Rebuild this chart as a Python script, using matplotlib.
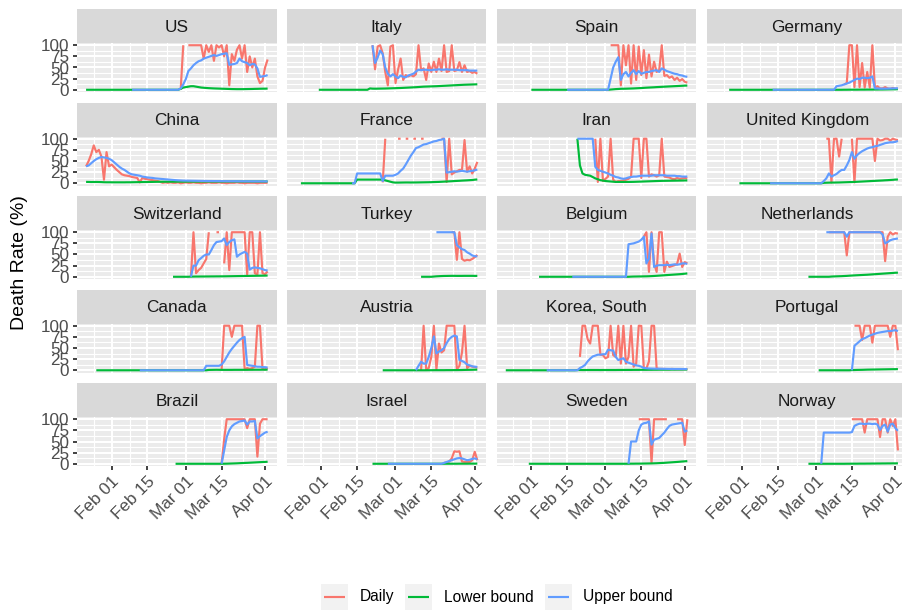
import numpy as np
import pandas as pd
import matplotlib
matplotlib.use("Agg")
import matplotlib.pyplot as plt
import matplotlib.dates as mdates
from matplotlib.patches import Rectangle

plt.rcParams["font.family"] = ["Liberation Sans", "DejaVu Sans"]
nan = np.nan

# ---------------------------------------------------------------------------
# Death-rate series per country: (first date, daily values in %)
# ---------------------------------------------------------------------------
COUNTRIES = ["US", "Italy", "Spain", "Germany",
             "China", "France", "Iran", "United Kingdom",
             "Switzerland", "Turkey", "Belgium", "Netherlands",
             "Canada", "Austria", "Korea, South", "Portugal",
             "Brazil", "Israel", "Sweden", "Norway"]
SERIES_NAMES = ["Daily", "Lower bound", "Upper bound"]
SERIES_COLORS = ["#F8766D", "#00BA38", "#619CFF"]

US_DAILY = ("2020-02-28", [0, 100, nan, 100, 100, 100, 100, 100, 100, 70,
                           100, 85, 100, 65, 100, 95, 100, 75, 100, 10,
                           80, 65, 90, 100, 70, 100, 40, 75, 50, 70,
                           30, 15, 20, 50, 68])
US_LOWER = ("2020-01-22", [0] * 37 + [2, 5, 6, 7, 8, 8, 7, 6, 5, 4.5,
                                      4, 3.6, 3.3, 3, 2.8, 2.6, 2.4, 2.2, 2.0, 1.8,
                                      1.6, 1.5, 1.4, 1.4, 1.4, 1.5, 1.6, 1.7, 1.8, 2.0,
                                      2.1, 2.3, 2.4, 2.5, 2.6])
US_UPPER = ("2020-02-09", [0] * 19 + [3, 12, 24, 42, 48, 55, 60, 64, 66, 70,
                                      72, 74, 76, 78, 76, 78, 80, 81, 82, 56,
                                      57, 58, 60, 70, 64, 62, 60, 55, 58, 57,
                                      48, 29, 30, 31, 33])

ITALY_DAILY = ("2020-02-21", [100, 46, 97, 100, 82, 40, 10, 97, 100, 15,
                              45, 70, 22, 33, 30, 33, 30, 35, 100, 44,
                              48, 22, 59, 40, 63, 40, 70, 42, 100, 40,
                              42, 100, 42, 44, 62, 40, 55, 40, 42, 38,
                              40, 36])
ITALY_LOWER = ("2020-01-31", [0] * 20 + [3, 2.5, 2.4, 2.5, 2.6, 2.7, 2.8, 3.0, 3.2, 3.4,
                                         3.6, 3.8, 4.0, 4.3, 4.6, 4.9, 5.2, 5.5, 5.8, 6.2,
                                         6.6, 7.0, 7.2, 7.4, 7.6, 7.8, 8.0, 8.3, 8.6, 8.9,
                                         9.2, 9.5, 9.8, 10.1, 10.4, 10.7, 11.0, 11.3, 11.5, 11.7,
                                         11.9, 12.1, 12.3])
ITALY_UPPER = ("2020-02-21", [100, 60, 72, 88, 80, 50, 36, 30, 35, 30,
                              26, 32, 29, 28, 32, 34, 36, 41, 45, 44,
                              45, 45, 44, 44, 45, 45, 46, 45, 45, 46,
                              45, 45, 45, 45, 44, 44, 44, 44, 43, 43,
                              43, 43])

SPAIN_DAILY = ("2020-03-03", [100, 100, 100, 100, 10, 100, 55, 100, 14, 100,
                              22, 97, 33, 89, 26, 79, 30, 63, 40, 44,
                              100, 31, 33, 27, 30, 22, 27, 20, 24, 18,
                              16])
SPAIN_LOWER = ("2020-02-01", [0] * 31 + [0.5, 1.0, 1.5, 1.8, 2.2, 2.3, 2.4, 2.6, 2.8, 3.0,
                                         3.3, 3.6, 3.9, 4.3, 4.7, 5.0, 5.3, 5.6, 6.0, 6.3,
                                         6.6, 6.9, 7.2, 7.5, 7.8, 8.1, 8.4, 8.7, 9.0, 9.3,
                                         9.5])
SPAIN_UPPER = ("2020-02-15", [0] * 17 + [25, 50, 63, 73, 22, 35, 40, 30, 38, 44,
                                         35, 42, 36, 38, 40, 40, 42, 43, 44, 40,
                                         48, 45, 42, 40, 38, 36, 35, 33, 32, 30,
                                         29])

GERMANY_DAILY = ("2020-03-12", [12, 15, 100, 100, 6, 100, 6, 60, 5, 40,
                                5, 100, 5, 8, 3, 3, 6, 3, 2, 4,
                                2, 2])
GERMANY_LOWER = ("2020-01-27", [0] * 45 + [0.1, 0.1, 0.2, 0.2, 0.2, 0.2, 0.3, 0.3, 0.3, 0.4,
                                           0.4, 0.4, 0.5, 0.5, 0.6, 0.6, 0.7, 0.8, 0.9, 1.0,
                                           1.1, 1.3])
GERMANY_UPPER = ("2020-02-13", [0] * 24 + [0, 8, 9, 10, 12, 14, 16, 19, 22, 25,
                                           24, 27, 27, 26, 27, 30, 3, 3, 2.5, 2.5,
                                           2.5, 2.6, 2.8, 3, 3.2, 3.5])

CHINA_DAILY = ("2020-01-22", [38, 50, 65, 85, 70, 75, 60, 8, 70, 38,
                              42, 36, 30, 25, 20, 18, 17, 16, 14, 13,
                              12, 2, 12, 10, 9, 8, 7, 6, 5, 3,
                              1, 2, 1, 2, 1, 1, 2, 0, 1, 2,
                              1, 1, 2, 1, 1, 0, 1, 1, 2, 1,
                              1, 1, 2, 1, 1, 0, 1, 1, 1, 2,
                              1, 1, 0, 1, 1, 1, 1, 0, 1, 1,
                              1, 1])
CHINA_LOWER = ("2020-01-22", [3.1, 3.0, 2.8, 2.9, 2.9, 2.8, 2.6, 2.3, 2.2, 2.2,
                              2.2, 2.1, 2.1, 2.1, 2.1, 2.1, 2.2, 2.2, 2.3, 2.4,
                              2.5, 2.6, 2.7, 2.8, 2.9, 3.0, 3.1, 3.2, 3.3, 3.4,
                              3.5, 3.5, 3.6, 3.6, 3.6, 3.6, 3.7, 3.7, 3.7, 3.7,
                              3.8, 3.8, 3.8, 3.8, 3.8, 3.9, 3.9, 3.9, 3.9, 3.9,
                              3.9, 3.9, 3.9, 3.9, 4.0, 4.0, 4.0, 4.0, 4.0, 4.0,
                              4.0, 4.0, 4.0, 4.0, 4.0, 4.0, 4.0, 4.0, 4.0, 4.0,
                              4.0, 4.0])
CHINA_UPPER = ("2020-01-22", [38, 40, 45, 50, 54, 57, 59, 58, 57, 55,
                              52, 47, 42, 37, 33, 30, 26, 22, 20, 19,
                              18, 17, 15, 14, 13, 12.5, 12, 11, 10.5, 10,
                              9.5, 9, 8.5, 8, 7.5, 7, 6.6, 6.3, 6, 5.9,
                              5.8, 5.7, 5.6, 5.5, 5.4, 5.3, 5.2, 5.1, 5.0, 5.0,
                              4.9, 4.9, 4.8, 4.8, 4.7, 4.7, 4.6, 4.6, 4.6, 4.5,
                              4.5, 4.5, 4.4, 4.4, 4.4, 4.3, 4.3, 4.3, 4.3, 4.2,
                              4.2, 4.2])

FRANCE_DAILY = ("2020-02-25", [2, 100, nan, nan, nan, nan, 100, 100, nan, 100,
                               100, nan, 100, 100, nan, 100, 100, nan, nan, nan,
                               nan, nan, nan, 100, 100, 3, 100, 20, 24, 27,
                               30, 30, 97, 26, 38, 22, 33, 48])
FRANCE_LOWER = ("2020-01-24", [0] * 22 + [8.3, 8.3, 8.3, 8.3, 8.3, 8.3, 8.3, 8.3, 8.3, 8.3,
                                          8.0, 6.5, 5, 3.5, 2.0, 1.5, 1.5, 1.6, 1.7, 1.8,
                                          1.8, 1.7, 1.8, 1.8, 1.9, 2.0, 2.1, 2.2, 2.3, 2.5,
                                          2.7, 2.9, 3.1, 3.4, 3.7, 4.0, 4.3, 4.6, 5.0, 5.3,
                                          5.6, 6.0, 6.3, 6.6, 7.0, 7.4, 8.0, 8.6])
FRANCE_UPPER = ("2020-02-13", [0, 0, 22, 22, 22, 22, 22, 22, 22, 22,
                               22, 22, 5, 17, 17, 17, 17, 19, 22, 28,
                               33, 42, 52, 62, 70, 79, 81, 84, 87, 88,
                               90, 92, 94, 95, 97, 98, 100, 24, 25, 26,
                               27, 26, 27, 28, 27, 26, 27, 28, 29, 31])

IRAN_DAILY = ("2020-02-26", [100, 3, 100, 5, 10, 15, 100, 8, 3, 5,
                             5, 6, 8, 10, 15, 100, 100, 100, 12, 100,
                             100, 15, 20, 18, 15, 18, 100, 15, 14, 13,
                             10, 9, 12, 10, 11, 12, 11])
IRAN_LOWER = ("2020-02-19", [100, 40, 22, 19, 18, 17, 14, 11, 9, 7,
                             6, 5, 4.5, 4, 3.5, 3, 3, 3, 3, 3,
                             3, 3.1, 3.2, 3.4, 3.6, 3.8, 4.0, 4.2, 4.4, 4.6,
                             4.8, 5.0, 5.2, 5.4, 5.5, 5.6, 5.7, 5.8, 5.9, 6.0,
                             6.1, 6.2, 6.3, 6.4])
IRAN_UPPER = ("2020-02-19", [100, 100, 100, 100, 100, 100, 100, 37, 30, 28,
                             26, 24, 22, 19, 17, 14, 13, 11, 10, 11,
                             13, 14, 15, 15, 16, 17, 17, 17, 17, 17,
                             18, 18, 18, 18, 18, 17, 17, 17, 17, 16,
                             16, 15, 15, 15])

UK_DAILY = ("2020-03-05", [100, 100, 2, 100, 100, 60, 100, nan, nan, nan,
                           100, 2, 100, 100, 100, 100, 100, 100, 100, 50,
                           100, 96, 97, 100, 100, 96, 100, 98, 97])
UK_LOWER = ("2020-01-31", [0] * 33 + [1.0, 1.2, 1.4, 1.5, 1.6, 1.7, 1.8, 2.0, 2.2, 2.4,
                                      2.6, 2.8, 3.0, 3.3, 3.6, 3.9, 4.2, 4.5, 4.8, 5.1,
                                      5.4, 5.7, 6.0, 6.3, 6.7, 7.0, 7.4, 7.8, 8.2, 8.6])
UK_UPPER = ("2020-02-12", [0] * 21 + [5, 11, 22, 15, 18, 21, 26, 30, 30, 40,
                                      52, 70, 55, 63, 68, 72, 75, 78, 80, 81,
                                      83, 84, 86, 88, 90, 91, 92, 92, 93, 95])

SWITZERLAND_DAILY = ("2020-03-03", [0, 100, 8, 15, 20, 30, 40, 100, nan, nan,
                                    100, 100, nan, 30, 100, 15, 100, 100, 100, 100,
                                    100, 100, 5, 100, 100, 8, 5, 100, 8, 6,
                                    12])
SWITZERLAND_LOWER = ("2020-02-25", [0] * 7 + [0.3, 0.4, 0.5, 0.5, 0.6, 0.6, 0.7, 0.7, 0.8, 0.8,
                                              0.9, 0.9, 1.0, 1.0, 1.1, 1.2, 1.3, 1.4, 1.5, 1.6,
                                              1.7, 1.8, 1.9, 2.0, 2.1, 2.2, 2.3, 2.4, 2.5, 2.6,
                                              2.8])
SWITZERLAND_UPPER = ("2020-03-03", [0, 25, 25, 37, 42, 47, 50, 50, 60, 71,
                                    78, 79, 80, 86, 71, 78, 82, 84, 45, 50,
                                    53, 56, 52, 16, 20, 21, 20, 19, 17, 15,
                                    14])

TURKEY_DAILY = ("2020-03-23", [100, 100, 38, 100, 40, 36, 38, 37, 40, 44,
                               49])
TURKEY_LOWER = ("2020-03-11", [0, 0, 0, 0, 0, 0.5, 1.0, 1.3, 1.6, 1.8,
                               1.9, 2.0, 2.1, 2.1, 2.0, 2.0, 2.0, 2.1, 2.1, 2.1,
                               2.1, 2.0, 2.0])
TURKEY_UPPER = ("2020-03-17", [100, 100, 100, 100, 100, 100, 100, 100, 71, 66,
                               62, 60, 55, 52, 48, 46, 46])

BELGIUM_DAILY = ("2020-03-16", [90, 100, 11, 100, 30, 11, 100, 100, 11, 34,
                                22, 24, 26, 29, 52, 22, 33, 30])
BELGIUM_LOWER = ("2020-02-04", [0] * 36 + [0.3, 0.5, 0.6, 0.7, 0.8, 0.9, 1.0, 1.2, 1.5, 1.8,
                                           2.2, 2.6, 3.0, 3.4, 3.8, 4.2, 4.6, 5.0, 5.4, 5.8,
                                           6.3, 6.9, 7.5])
BELGIUM_UPPER = ("2020-02-17", [0] * 22 + [73, 74, 75, 77, 79, 83, 90, 30, 41, 97,
                                           22, 25, 26, 26, 26, 27, 26, 27, 28, 27,
                                           28, 30, 30, 29])

NETHERLANDS_DAILY = ("2020-03-06", [100, 100, 100, 100, 100, 100, 100, 48, 100, 100,
                                    100, 100, 100, 100, 100, 100, 100, 100, 100, 100,
                                    100, 100, 35, 90, 100, 95, 98, 97])
NETHERLANDS_LOWER = ("2020-02-27", [0] * 9 + [0.5, 0.8, 1.0, 1.2, 1.4, 1.7, 2.0, 2.4, 2.8, 3.1,
                                              3.4, 3.7, 4.0, 4.3, 4.6, 5.0, 5.4, 5.8, 6.2, 6.6,
                                              7.0, 7.4, 7.8, 8.2, 8.6, 9.0, 9.3])
NETHERLANDS_UPPER = ("2020-03-05", [100, 100, 100, 100, 100, 100, 100, 100, 90, 100,
                                    100, 100, 100, 100, 100, 100, 100, 100, 100, 100,
                                    100, 100, 95, 75, 78, 82, 84, 85, 86])

CANADA_DAILY = ("2020-03-15", [0, 100, 100, 100, 75, 100, 100, 100, 100, 2,
                               5, 3, 5, 8, 100, 100, 3, 2, 5])
CANADA_LOWER = ("2020-01-26", [0] * 44 + [0.8, 0.9, 1.0, 1.1, 1.0, 0.9, 0.9, 0.9, 0.9, 0.9,
                                          1.0, 1.0, 1.0, 1.0, 1.0, 1.0, 1.1, 1.1, 1.2, 1.2,
                                          1.2, 1.3, 1.3, 1.4])
CANADA_UPPER = ("2020-02-12", [0] * 26 + [10, 10, 10, 10, 10, 10, 13, 20, 30, 40,
                                          48, 55, 62, 68, 72, 75, 12, 11, 10, 9,
                                          8, 8, 7, 7, 6])

AUSTRIA_DAILY = ("2020-03-11", [0, 100, 2, 5, 30, 100, 2, 60, 40, 45,
                                100, 100, 100, 100, 2, 10, 40, 100, 5, 10,
                                8, 7, 6])
AUSTRIA_LOWER = ("2020-02-25", [0] * 18 + [0.1, 0.1, 0.2, 0.2, 0.2, 0.2, 0.2, 0.3, 0.3, 0.3,
                                           0.4, 0.4, 0.5, 0.6, 0.8, 0.9, 1.0, 1.1, 1.3, 1.4])
AUSTRIA_UPPER = ("2020-03-09", [0, 10, 19, 15, 15, 30, 50, 76, 38, 42,
                                45, 50, 61, 70, 75, 78, 76, 23, 21, 18,
                                13, 11, 9, 8, 7.6])

KOREA_DAILY = ("2020-02-20", [30, 100, 100, 70, 60, 100, 100, 100, 35, 34,
                              27, 30, 100, 34, 30, 100, 15, 100, 15, 30,
                              100, 8, 15, 100, 100, 4, 4, 20, 100, 100,
                              4, 3, 3, 3, 2.5, 2.5, 3, 2.5, 2.5, 2.5,
                              2.5, 2.5, 2.5])
KOREA_LOWER = ("2020-01-22", [0] * 28 + [0.5, 0.6, 0.5, 0.5, 0.6, 0.6, 0.6, 0.6, 0.6, 0.5,
                                         0.6, 0.6, 0.6, 0.6, 0.6, 0.6, 0.7, 0.7, 0.7, 0.8,
                                         0.8, 0.8, 0.9, 0.9, 0.9, 1.0, 1.0, 1.0, 1.1, 1.1,
                                         1.2, 1.2, 1.3, 1.3, 1.3, 1.4, 1.4, 1.5, 1.5, 1.6,
                                         1.6, 1.6, 1.7, 1.7])
KOREA_UPPER = ("2020-02-07", [0] * 13 + [5, 8, 12, 20, 26, 31, 33, 35, 35, 36,
                                         36, 46, 45, 44, 30, 23, 25, 27, 19, 17,
                                         15, 13, 11, 10, 8, 5, 4.5, 4, 3.8, 3.6,
                                         3.5, 3.4, 3.3, 3.2, 3.1, 3.0, 3.0, 2.9, 2.9, 2.9,
                                         2.8, 2.8, 2.8])

PORTUGAL_DAILY = ("2020-03-16", [100, 100, 100, 68, 100, 100, 100, 62, 100, 100,
                                 100, 100, 100, 100, 75, 100, 100, 45])
PORTUGAL_LOWER = ("2020-03-02", [0] * 13 + [0.4, 0.6, 0.8, 0.9, 1.0, 1.2, 1.4, 1.5, 1.6, 1.7,
                                            1.8, 1.9, 2.0, 2.1, 2.2, 2.3, 2.4, 2.5, 2.6])
PORTUGAL_UPPER = ("2020-03-15", [0, 55, 60, 65, 70, 72, 75, 78, 80, 82,
                                 84, 85, 86, 87, 88, 88, 89, 90, 88])

BRAZIL_DAILY = ("2020-03-15", [0, 55, 100, 100, 100, 100, 100, 100, 100, 100,
                               80, 100, 100, 100, 16, 90, 100, 100, 100])
BRAZIL_LOWER = ("2020-02-26", [0] * 19 + [0.1, 0.2, 0.4, 0.6, 0.8, 1.0, 1.3, 1.6, 1.9, 2.1,
                                          2.4, 2.7, 3.0, 3.3, 3.6, 3.9, 4.2, 4.5])
BRAZIL_UPPER = ("2020-03-15", [0, 30, 60, 75, 84, 89, 92, 95, 96, 97,
                               88, 95, 95, 96, 57, 62, 66, 70, 72])

ISRAEL_DAILY = ("2020-03-20", [2, 3, 5, 12, 28, 27, 28, 5, 4, 4,
                               4, 8, 27, 8])
ISRAEL_LOWER = ("2020-02-21", [0] * 28 + [0.1, 0.1, 0.1, 0.1, 0.1, 0.1, 0.2, 0.2, 0.2, 0.2,
                                          0.3, 0.3, 0.3, 0.4])
ISRAEL_UPPER = ("2020-02-27", [0] * 22 + [2, 4, 6, 8, 10, 12, 13, 12, 10, 8,
                                          9, 11, 12, 10])

SWEDEN_DAILY = ("2020-03-14", [100, 100, 100, 100, 100, 2, 100, 100, 100, 100,
                               100, 100, nan, nan, nan, 100, 100, 100, 42, 100])
SWEDEN_LOWER = ("2020-01-31", [0] * 40 + [0.2, 0.2, 0.3, 0.3, 0.4, 0.5, 0.6, 0.7, 0.8, 1.0,
                                          1.2, 1.5, 1.8, 2.1, 2.5, 2.9, 3.3, 3.7, 4.1, 4.6,
                                          5.1, 5.5, 6.0])
SWEDEN_UPPER = ("2020-03-10", [0, 50, 50, 50, 75, 88, 91, 92, 95, 43,
                               54, 56, 58, 64, 70, 78, 85, 88, 89, 90,
                               91, 92, 72, 75])

NORWAY_DAILY = ("2020-03-15", [100, 100, 100, 100, 100, 70, 100, 100, 100, 100,
                               100, 60, 100, 100, 70, 100, 85, 100, 30])
NORWAY_LOWER = ("2020-02-27", [0] * 15 + [0.1, 0.1, 0.2, 0.2, 0.2, 0.3, 0.3, 0.3, 0.4, 0.4,
                                          0.5, 0.5, 0.6, 0.6, 0.7, 0.7, 0.8, 0.8, 0.9, 0.9,
                                          1.0])
NORWAY_UPPER = ("2020-03-03", [0, 70, 70, 70, 70, 70, 70, 70, 70, 70,
                               70, 70, 71, 85, 88, 90, 90, 89, 90, 90,
                               89, 90, 88, 76, 85, 88, 72, 88, 90, 80,
                               74])

PANEL_SERIES = {
    "US": (US_DAILY, US_LOWER, US_UPPER),
    "Italy": (ITALY_DAILY, ITALY_LOWER, ITALY_UPPER),
    "Spain": (SPAIN_DAILY, SPAIN_LOWER, SPAIN_UPPER),
    "Germany": (GERMANY_DAILY, GERMANY_LOWER, GERMANY_UPPER),
    "China": (CHINA_DAILY, CHINA_LOWER, CHINA_UPPER),
    "France": (FRANCE_DAILY, FRANCE_LOWER, FRANCE_UPPER),
    "Iran": (IRAN_DAILY, IRAN_LOWER, IRAN_UPPER),
    "United Kingdom": (UK_DAILY, UK_LOWER, UK_UPPER),
    "Switzerland": (SWITZERLAND_DAILY, SWITZERLAND_LOWER, SWITZERLAND_UPPER),
    "Turkey": (TURKEY_DAILY, TURKEY_LOWER, TURKEY_UPPER),
    "Belgium": (BELGIUM_DAILY, BELGIUM_LOWER, BELGIUM_UPPER),
    "Netherlands": (NETHERLANDS_DAILY, NETHERLANDS_LOWER, NETHERLANDS_UPPER),
    "Canada": (CANADA_DAILY, CANADA_LOWER, CANADA_UPPER),
    "Austria": (AUSTRIA_DAILY, AUSTRIA_LOWER, AUSTRIA_UPPER),
    "Korea, South": (KOREA_DAILY, KOREA_LOWER, KOREA_UPPER),
    "Portugal": (PORTUGAL_DAILY, PORTUGAL_LOWER, PORTUGAL_UPPER),
    "Brazil": (BRAZIL_DAILY, BRAZIL_LOWER, BRAZIL_UPPER),
    "Israel": (ISRAEL_DAILY, ISRAEL_LOWER, ISRAEL_UPPER),
    "Sweden": (SWEDEN_DAILY, SWEDEN_LOWER, SWEDEN_UPPER),
    "Norway": (NORWAY_DAILY, NORWAY_LOWER, NORWAY_UPPER),
}

X_TICKS = ["2020-02-01 00:00", "2020-02-15 00:00", "2020-03-01 00:00",
           "2020-03-15 00:00", "2020-04-01 00:00"]
X_MINOR = ["2020-01-25 00:00", "2020-02-08 00:00", "2020-02-22 12:00",
           "2020-03-08 00:00", "2020-03-23 12:00"]
Y_TICKS = [0, 25, 50, 75, 100]
Y_MINOR = [12.5, 37.5, 62.5, 87.5]
DATE_MIN, DATE_MAX = pd.Timestamp("2020-01-22"), pd.Timestamp("2020-04-02")

# ---------------------------------------------------------------------------
# Layout (pixels)
# ---------------------------------------------------------------------------
W, H = 902, 610
fig = plt.figure(figsize=(W / 100, H / 100), dpi=100)
fig.patch.set_facecolor("white")

COL_LEFT = [77, 286.7, 496.7, 707.3]
PANEL_W = 199.7
STRIP_TOP0, STRIP_H, PANEL_H, ROW_PITCH = 9, 34, 49, 93.5

span = (DATE_MAX - DATE_MIN) * 0.05
xlo = mdates.date2num(DATE_MIN - span)
xhi = mdates.date2num(DATE_MAX + span)
major_x = mdates.date2num(pd.to_datetime(X_TICKS, format="%Y-%m-%d %H:%M"))
minor_x = mdates.date2num(pd.to_datetime(X_MINOR, format="%Y-%m-%d %H:%M"))

STRIP_TEXT = 12.4
TICK_TEXT = 12.3
LEGEND_TEXT = 11.2
TITLE_TEXT = 14
LINE_W = 1.55


def frac_rect(left, top, width, height):
    return [left / W, 1 - (top + height) / H, width / W, height / H]


for i, name in enumerate(COUNTRIES):
    r, c = divmod(i, 4)
    top = STRIP_TOP0 + r * ROW_PITCH

    sax = fig.add_axes(frac_rect(COL_LEFT[c], top, PANEL_W, STRIP_H))
    sax.set_facecolor("#D9D9D9")
    sax.set_xticks([])
    sax.set_yticks([])
    for s in sax.spines.values():
        s.set_visible(False)
    sax.text(0.5, 0.47, name, ha="center", va="center", fontsize=STRIP_TEXT,
             color="#1A1A1A", transform=sax.transAxes)

    ax = fig.add_axes(frac_rect(COL_LEFT[c], top + STRIP_H, PANEL_W, PANEL_H))
    ax.set_facecolor("#EBEBEB")
    for s in ax.spines.values():
        s.set_visible(False)

    ax.set_yticks(Y_TICKS)
    ax.set_yticks(Y_MINOR, minor=True)
    ax.set_xticks(major_x)
    ax.set_xticks(minor_x, minor=True)
    ax.grid(which="major", color="white", linewidth=1.5)
    ax.grid(which="minor", color="white", linewidth=0.8)
    ax.set_axisbelow(True)

    ax.xaxis.set_major_formatter(mdates.DateFormatter("%b %d"))
    ax.tick_params(which="minor", length=0)
    ax.tick_params(which="major", length=3.2, width=1.3, color="#333333",
                   labelcolor="#4D4D4D", labelsize=TICK_TEXT, pad=2.5)
    if c != 0:
        ax.tick_params(axis="y", which="major", length=0, labelleft=False)
    if r != 4:
        ax.tick_params(axis="x", which="major", length=0, labelbottom=False)

    for (start, vals), color in zip(PANEL_SERIES[name], SERIES_COLORS):
        dates = pd.date_range(start, periods=len(vals), freq="D")
        ax.plot(dates, np.asarray(vals, dtype=float), color=color,
                linewidth=LINE_W, solid_capstyle="butt", zorder=3)

    ax.set_xlim(xlo, xhi)
    ax.set_ylim(-5, 105)
    if r == 4:
        for lab in ax.get_xticklabels():
            lab.set_rotation(45)
            lab.set_ha("right")
            lab.set_va("top")
            lab.set_rotation_mode("anchor")

# ---------------------------------------------------------------------------
# Axis title and legend in pixel coordinates
# ---------------------------------------------------------------------------
over = fig.add_axes([0, 0, 1, 1], facecolor="none")
over.set_xlim(0, W)
over.set_ylim(H, 0)
over.axis("off")

over.text(20, 263, "Death Rate (%)", rotation=90, ha="center", va="center",
          fontsize=TITLE_TEXT, color="black")

KEY_LEFT = [321, 405, 545]
LABEL_LEFT = [360, 444, 583]
KEY_SIZE = 27
LEG_Y = 597
for name, color, kx, lx in zip(SERIES_NAMES, SERIES_COLORS, KEY_LEFT, LABEL_LEFT):
    over.add_patch(Rectangle((kx, LEG_Y - KEY_SIZE / 2), KEY_SIZE, KEY_SIZE,
                             facecolor="#F2F2F2", edgecolor="none"))
    over.plot([kx + 3, kx + KEY_SIZE - 3], [LEG_Y, LEG_Y], color=color,
              linewidth=LINE_W, solid_capstyle="butt")
    over.text(lx, LEG_Y, name, ha="left", va="center", fontsize=LEGEND_TEXT,
              color="black")

fig.savefig("out.png", dpi=100, facecolor="white")
